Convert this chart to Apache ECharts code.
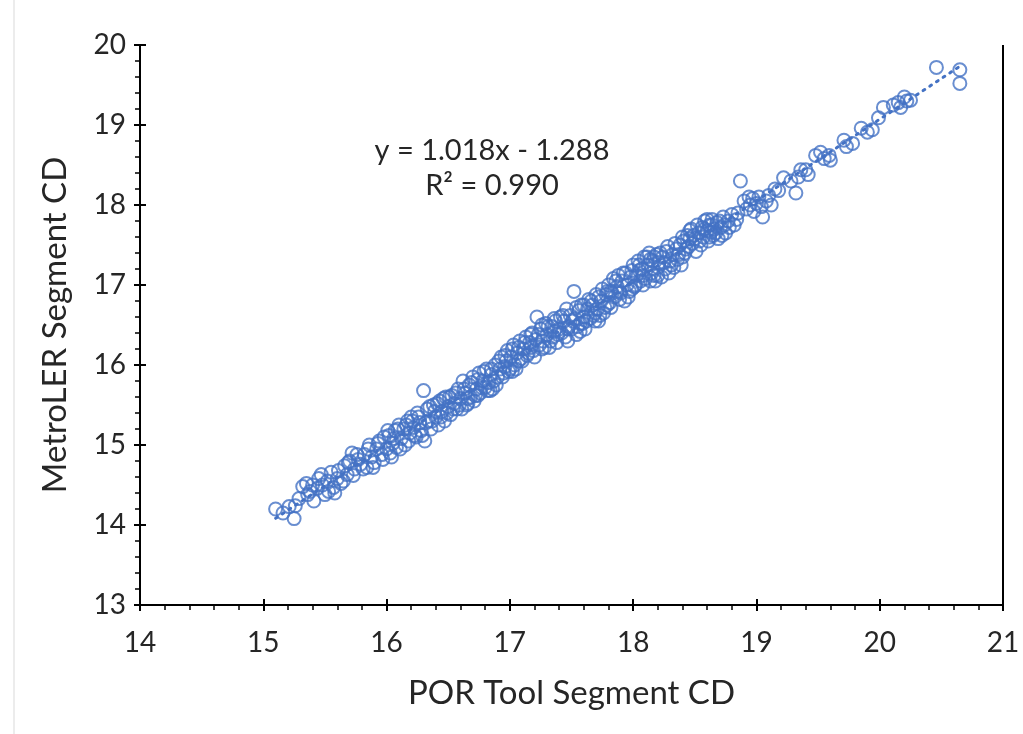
<!DOCTYPE html>
<html><head><meta charset="utf-8">
<script src="https://cdn.jsdelivr.net/npm/echarts@6/dist/echarts.min.js"></script>
<style>html,body{margin:0;padding:0;background:#fff}#c{width:1023px;height:734px}</style>
</head><body><div id="c"></div>
<script>
// POR Tool Segment CD (x) vs MetroLER Segment CD (y)
const pointsLow = [[15.10,14.20],[15.16,14.15],[15.25,14.08],[15.21,14.23],[15.29,14.33],[15.32,14.48],[15.35,14.52],[15.38,14.42],[15.41,14.30],[15.44,14.46],[15.47,14.63],[15.50,14.38],[15.52,14.55],[15.55,14.66],[15.57,14.47],[15.60,14.58],[15.63,14.52],[15.66,14.74],[15.68,14.63],[15.70,14.80],[15.72,14.90],[15.74,14.70],[15.77,14.82],[15.79,14.76],[15.36,14.38],[15.45,14.58],[15.58,14.40],[15.48,14.50],[15.26,14.24],[15.40,14.50]];
const pointsMidLow = [[15.82,14.88],[15.84,14.72],[15.86,15.00],[15.88,14.85],[15.90,14.78],[15.92,14.95],[15.94,15.05],[15.96,14.88],[15.98,15.10],[16.00,14.95],[16.02,15.12],[16.03,14.90],[16.05,15.02],[16.07,15.18],[16.08,14.97],[16.10,15.25],[16.12,15.08],[16.14,15.20],[16.15,15.00],[16.17,15.30],[16.19,15.15],[16.20,15.35],[16.22,15.22],[16.24,15.10],[16.25,15.40],[16.27,15.28],[16.29,15.12],[16.30,15.68],[16.31,15.05],[16.33,15.45],[16.34,15.30],[16.36,15.20],[16.38,15.50],[16.40,15.35],[16.42,15.25],[16.43,15.55],[16.45,15.42],[16.47,15.30],[16.48,15.60],[16.50,15.48],[16.52,15.38],[16.53,15.62],[16.55,15.52],[16.57,15.45],[16.58,15.70],[16.60,15.58]];
const pointsMidLow2 = [[15.53,14.42],[15.61,14.68],[15.65,14.55],[15.69,14.78],[15.73,14.62],[15.76,14.88],[15.81,14.70],[15.85,14.95],[15.89,14.72],[15.93,15.02],[15.97,14.82],[16.01,15.18],[16.04,14.85],[16.06,15.08],[16.09,15.20],[16.11,14.95],[16.16,15.25],[16.18,15.05],[16.21,15.30],[16.23,15.12],[16.26,15.35],[16.28,15.18],[16.32,15.28],[16.35,15.48],[16.37,15.30],[16.39,15.42],[16.41,15.52],[16.44,15.35],[16.46,15.58],[16.49,15.40],[16.51,15.60],[16.54,15.45],[16.56,15.65],[16.59,15.50]];
const pointsMid = [[16.61,15.45],[16.62,15.80],[16.64,15.65],[16.65,15.50],[16.67,15.75],[16.68,15.60],[16.70,15.85],[16.71,15.55],[16.73,15.70],[16.75,15.90],[16.76,15.65],[16.78,15.80],[16.80,15.72],[16.81,15.95],[16.83,15.78],[16.85,15.88],[16.86,15.70],[16.88,16.00],[16.90,15.85],[16.92,15.95],[16.93,16.10],[16.95,15.90],[16.97,16.05],[16.98,16.18],[17.00,15.95],[17.01,16.10],[17.03,16.25],[17.04,16.00],[17.06,16.15],[17.08,16.30],[17.09,16.08],[17.11,16.20],[17.13,16.35],[17.14,16.12],[17.16,16.28],[17.18,16.40],[17.19,16.18],[17.21,16.32],[17.22,16.60],[17.24,16.25],[17.25,16.45],[17.27,16.30],[17.29,16.52],[17.30,16.38],[17.32,16.22],[17.34,16.48],[17.35,16.35],[17.37,16.55],[17.38,16.28],[17.40,16.45],[16.66,15.58],[16.74,15.62],[16.87,15.80],[16.96,15.98],[17.07,16.05],[17.17,16.22],[17.26,16.20],[17.36,16.42],[17.02,15.92],[16.84,15.68]];
const pointsMid2 = [[16.63,15.70],[16.66,15.52],[16.69,15.78],[16.72,15.62],[16.74,15.82],[16.77,15.72],[16.79,15.92],[16.82,15.68],[16.85,15.95],[16.89,15.75],[16.91,16.05],[16.94,15.85],[16.96,16.12],[16.99,15.92],[17.02,16.20],[17.05,15.95],[17.07,16.22],[17.10,16.05],[17.12,16.28],[17.15,16.15],[17.17,16.38],[17.20,16.10],[17.23,16.38],[17.26,16.50],[17.28,16.22],[17.31,16.48],[17.33,16.30],[17.36,16.58],[17.39,16.38],[17.43,16.62],[17.47,16.45]];
const pointsMidHigh = [[17.41,16.60],[17.42,16.40],[17.44,16.55],[17.45,16.35],[17.46,16.70],[17.48,16.48],[17.49,16.62],[17.50,16.45],[17.52,16.92],[17.53,16.58],[17.54,16.38],[17.56,16.68],[17.57,16.52],[17.58,16.75],[17.60,16.60],[17.61,16.45],[17.63,16.70],[17.64,16.82],[17.65,16.58],[17.67,16.75],[17.68,16.62],[17.70,16.88],[17.71,16.70],[17.72,16.55],[17.74,16.80],[17.75,16.95],[17.77,16.72],[17.78,16.88],[17.80,17.00],[17.81,16.78],[17.82,16.92],[17.84,17.08],[17.85,16.85],[17.87,16.98],[17.88,17.12],[17.90,16.90],[17.91,17.05],[17.93,16.80],[17.94,17.15],[17.95,17.00],[17.97,16.92],[17.98,17.10],[18.00,17.25],[18.01,16.98],[18.03,17.12],[18.04,17.30],[18.06,17.05],[18.07,17.20],[18.09,17.35],[18.10,17.08],[18.12,17.25],[18.13,17.40],[18.15,17.15],[18.16,17.30],[18.18,17.05],[18.19,17.38],[18.20,17.22],[17.47,16.30],[17.59,16.52],[17.69,16.65],[17.79,16.75],[17.89,16.82],[17.99,16.95],[18.08,17.00],[18.17,17.12],[17.55,16.48],[17.73,16.62],[17.83,16.90],[18.05,17.18],[18.14,17.32]];
const pointsMidHigh2 = [[17.51,16.55],[17.54,16.72],[17.57,16.42],[17.60,16.75],[17.62,16.55],[17.66,16.80],[17.69,16.55],[17.72,16.85],[17.76,16.65],[17.79,16.92],[17.82,16.72],[17.86,17.05],[17.89,16.92],[17.92,17.15],[17.96,16.85],[17.99,17.18],[18.02,17.00],[18.05,17.25],[18.08,17.12],[18.11,17.35],[18.14,17.05],[18.17,17.35],[18.20,17.12],[18.22,17.40],[18.25,17.28],[18.28,17.48],[18.31,17.25],[18.34,17.52],[18.37,17.38],[18.40,17.60]];
const pointsHigh = [[18.21,17.28],[18.23,17.10],[18.24,17.35],[18.26,17.20],[18.27,17.42],[18.29,17.15],[18.30,17.30],[18.32,17.38],[18.33,17.22],[18.35,17.45],[18.36,17.32],[18.38,17.50],[18.39,17.25],[18.41,17.55],[18.42,17.40],[18.44,17.62],[18.45,17.48],[18.47,17.70],[18.48,17.52],[18.50,17.58],[18.51,17.42],[18.53,17.65],[18.54,17.55],[18.56,17.72],[18.57,17.60],[18.58,17.80],[18.60,17.68],[18.61,17.55],[18.62,17.75],[18.64,17.82],[18.65,17.62],[18.66,17.70],[18.68,17.78],[18.69,17.58],[18.71,17.72],[18.73,17.85],[18.75,17.65],[18.77,17.80],[18.80,17.88],[18.82,17.75],[18.85,17.90],[18.87,18.30],[18.40,17.35],[18.46,17.58],[18.63,17.66]];
const pointsHigh2 = [[18.43,17.45],[18.46,17.68],[18.49,17.62],[18.52,17.75],[18.55,17.50],[18.58,17.70],[18.60,17.82],[18.62,17.60],[18.64,17.75],[18.67,17.65],[18.70,17.80],[18.72,17.62],[18.74,17.75],[18.78,17.72],[18.84,17.82]];
const pointsTop = [[18.90,18.05],[18.92,17.95],[18.94,18.10],[18.95,18.00],[18.97,18.08],[18.98,17.92],[19.00,18.02],[19.02,18.10],[19.04,17.98],[19.05,17.85],[19.08,18.05],[19.10,18.12],[19.12,18.00],[19.15,18.20],[19.18,18.18],[19.22,18.34],[19.28,18.30],[19.32,18.15],[19.34,18.35],[19.36,18.44],[19.40,18.44],[19.42,18.38],[19.48,18.62],[19.52,18.66],[19.55,18.58],[19.59,18.62],[19.60,18.56],[19.71,18.81],[19.73,18.73],[19.78,18.77],[19.85,18.96],[19.90,18.91],[19.94,18.94],[19.99,19.09],[20.03,19.22],[20.11,19.25],[20.15,19.28],[20.17,19.22],[20.20,19.35],[20.25,19.31],[20.22,19.30],[20.46,19.72],[20.65,19.69],[20.65,19.52]];

// Trendline as labelled on the chart
const trendSlope = 1.018;
const trendIntercept = -1.288;
const trendRange = [15.10, 20.65];
const equationText = 'y = 1.018x - 1.288';
const r2Text = 'R² = 0.990';
const xTitle = 'POR Tool Segment CD';
const yTitle = 'MetroLER Segment CD';

const allPoints = [].concat(pointsLow, pointsMidLow, pointsMidLow2, pointsMid, pointsMid2, pointsMidHigh, pointsMidHigh2, pointsHigh, pointsHigh2, pointsTop);
const trendData = trendRange.map(x => [x, trendSlope * x + trendIntercept]);

const blue = '#4472C4';
const font = 'Lato, "Open Sans", sans-serif';
const textColor = '#262626';
const chart = echarts.init(document.getElementById('c'), null, {renderer: 'canvas'});

const baseX = {type: 'value', min: 14, max: 21, interval: 1, gridIndex: 0};
const baseY = {type: 'value', min: 13, max: 20, interval: 1, gridIndex: 0};

chart.setOption({
  animation: false,
  backgroundColor: '#fff',
  grid: {left: 140, right: 20, top: 45, bottom: 129, containLabel: false},
  xAxis: [
    Object.assign({}, baseX, {
      position: 'bottom',
      name: xTitle, nameLocation: 'middle', nameGap: 72,
      nameTextStyle: {fontFamily: font, fontSize: 33, color: textColor},
      axisLine: {show: true, onZero: false, lineStyle: {color: '#000', width: 2}},
      axisTick: {show: true, inside: false, length: 6, lineStyle: {color: '#000', width: 2}},
      minorTick: {show: true, splitNumber: 5, length: 5, lineStyle: {color: '#000', width: 1.5}},
      axisLabel: {fontFamily: font, fontSize: 28, color: textColor, margin: 24},
      splitLine: {show: false}
    }),
    Object.assign({}, baseX, {
      position: 'bottom',
      axisLine: {show: false, onZero: false},
      axisTick: {show: true, inside: true, length: 6, lineStyle: {color: '#000', width: 2}},
      axisLabel: {show: false}, splitLine: {show: false}
    })
  ],
  yAxis: [
    Object.assign({}, baseY, {
      position: 'left',
      name: yTitle, nameLocation: 'middle', nameGap: 68, nameRotate: 90,
      nameTextStyle: {fontFamily: font, fontSize: 33, color: textColor},
      axisLine: {show: true, onZero: false, lineStyle: {color: '#000', width: 2}},
      axisTick: {show: true, inside: false, length: 6, lineStyle: {color: '#000', width: 2}},
      minorTick: {show: true, splitNumber: 5, length: 5, lineStyle: {color: '#000', width: 1.5}},
      axisLabel: {fontFamily: font, fontSize: 28, color: textColor, margin: 14},
      splitLine: {show: false}
    }),
    Object.assign({}, baseY, {
      position: 'left',
      axisLine: {show: false, onZero: false},
      axisTick: {show: true, inside: true, length: 6, lineStyle: {color: '#000', width: 2}},
      axisLabel: {show: false}, splitLine: {show: false}
    })
  ],
  series: [
    {
      type: 'scatter', xAxisIndex: 0, yAxisIndex: 0,
      data: allPoints,
      symbol: 'circle', symbolSize: 13,
      itemStyle: {color: 'rgba(255,255,255,0)', borderColor: blue, borderWidth: 2},
      z: 3
    },
    {
      type: 'line', xAxisIndex: 0, yAxisIndex: 0,
      data: trendData, showSymbol: false, symbol: 'none',
      lineStyle: {color: blue, width: 3, type: [2, 6], cap: 'round'},
      z: 4, silent: true
    }
  ],
  graphic: [
    {type: 'text', x: 492, y: 133, style: {text: equationText + '\n' + r2Text, font: '29px ' + font, fill: textColor, align: 'center', textAlign: 'center', lineHeight: 35}},
    {type: 'line', shape: {x1: 1003, y1: 45, x2: 1003, y2: 606}, style: {stroke: '#000', lineWidth: 2}},
    {type: 'line', shape: {x1: 14, y1: 0, x2: 14, y2: 734}, style: {stroke: '#d9d9d9', lineWidth: 1}}
  ]
});
</script></body></html>
